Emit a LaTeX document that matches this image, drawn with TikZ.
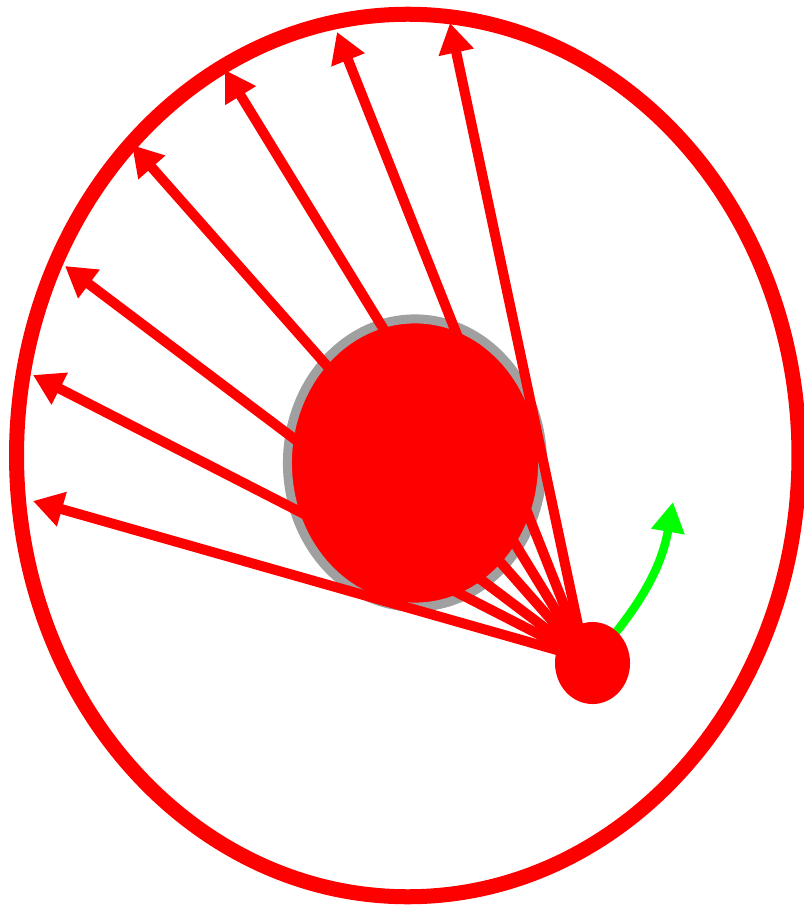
\documentclass[tikz,border=0pt]{standalone}
\usepackage{xcolor}
\usetikzlibrary{arrows.meta}

\definecolor{ringgray}{HTML}{A0A0A0}
\definecolor{puregreen}{HTML}{00FF00}

\begin{document}
\begin{tikzpicture}[x=0.01cm, y=-0.01cm,
  ray/.style={draw=red, line width=0.1cm,
              -{Triangle[length=0.3cm, width=0.34cm]}},
  spin/.style={draw=puregreen, line width=0.085cm,
               -{Triangle[length=0.3cm, width=0.32cm]}}]

  \useasboundingbox (0,0) rectangle (803,907);

  % outer orbit
  \draw[red, line width=0.15cm] (407.75,455.5) ellipse [x radius=3.91cm, y radius=4.41cm];

  % central body
  \filldraw[fill=red, draw=ringgray, line width=0.09cm]
    (415,463) ellipse [x radius=1.275cm, y radius=1.44cm];

  % source and ray tips
  \coordinate (src) at (585,658);
  \foreach \tx/\ty [count=\i] in {33/501, 33/375, 65/266, 132/145, 225/70, 337/32, 450/23}
    \coordinate (tip\i) at (\tx,\ty);
  \foreach \i in {1,...,7}
    \draw[ray] (src) -- (tip\i);

  % green spin arrow
  \coordinate (g0) at (608,642);
  \coordinate (g1) at (673,502);
  \draw[spin] (g0) to[bend right=15] (g1);

  % small body
  \fill[red] (592.5,663) ellipse [x radius=0.375cm, y radius=0.41cm];
\end{tikzpicture}
\end{document}
